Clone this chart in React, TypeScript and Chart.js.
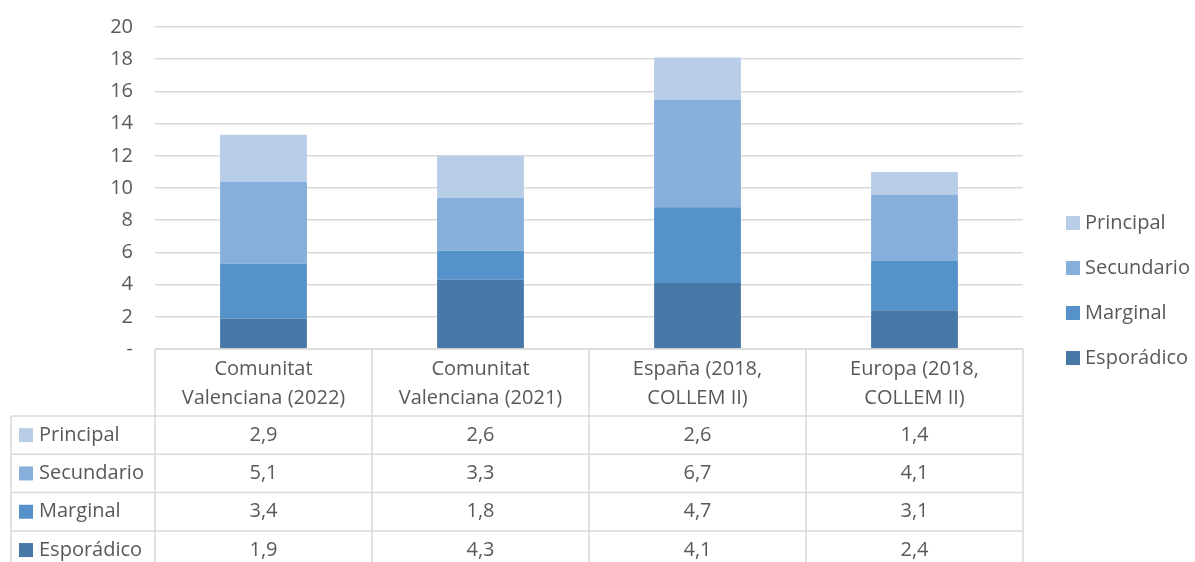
import React, { useEffect, useRef } from "react";
import { Chart, registerables } from "chart.js";

Chart.register(...registerables);

const categories: string[][] = [
  ["Comunitat", "Valenciana (2022)"],
  ["Comunitat", "Valenciana (2021)"],
  ["España (2018,", "COLLEM II)"],
  ["Europa (2018,", "COLLEM II)"],
];

const seriesNames = ["Esporádico", "Marginal", "Secundario", "Principal"];
const esporadico = [1.9, 4.3, 4.1, 2.4];
const marginal = [3.4, 1.8, 4.7, 3.1];
const secundario = [5.1, 3.3, 6.7, 4.1];
const principal = [2.9, 2.6, 2.6, 1.4];
const seriesColors = ["#4778A8", "#5592C9", "#86AFDC", "#B8CDE8"];

const yTicks = [0, 2, 4, 6, 8, 10, 12, 14, 16, 18, 20];

const FONT = '"Open Sans", "DejaVu Sans", sans-serif';
const TEXT = "#595959";
const LINE = "#D9D9D9";

const fmt = (v: number) => v.toFixed(1).replace(".", ",");

const tablePlugin = {
  id: "dataTableAndLegend",
  afterDraw(chart: any) {
    const ctx = chart.ctx as CanvasRenderingContext2D;
    const area = chart.chartArea;
    const xs = chart.scales.x;
    const n = categories.length;
    const colW = (area.right - area.left) / n;
    const tableLeft = 11;
    const headerTop = area.bottom;
    const headerBottom = 416;
    const rowH = 38.3;
    const bottom = chart.height + 10;
    const datasets = chart.data.datasets;
    const rowOrder = [3, 2, 1, 0];

    ctx.save();
    ctx.strokeStyle = LINE;
    ctx.lineWidth = 1.5;
    ctx.beginPath();
    // header top line
    ctx.moveTo(area.left, headerTop);
    ctx.lineTo(area.right, headerTop);
    // row lines
    for (let r = 0; r < rowOrder.length; r++) {
      const y = headerBottom + r * rowH;
      ctx.moveTo(tableLeft, y);
      ctx.lineTo(area.right, y);
    }
    // verticals
    for (let i = 0; i <= n; i++) {
      const x = area.left + i * colW;
      ctx.moveTo(x, headerTop);
      ctx.lineTo(x, bottom);
    }
    ctx.moveTo(tableLeft, headerBottom);
    ctx.lineTo(tableLeft, bottom);
    ctx.stroke();

    ctx.fillStyle = TEXT;
    ctx.font = `20px ${FONT}`;
    ctx.textAlign = "center";
    ctx.textBaseline = "middle";
    // header labels
    categories.forEach((lines, i) => {
      const cx = xs.getPixelForValue(i);
      lines.forEach((ln, k) => {
        ctx.fillText(ln, cx, 369 + k * 29);
      });
    });
    // rows
    rowOrder.forEach((di, r) => {
      const cy = headerBottom + r * rowH + rowH / 2;
      const ds = datasets[di];
      ctx.textAlign = "center";
      ctx.fillStyle = TEXT;
      (ds.data as number[]).forEach((v, i) => {
        ctx.fillText(fmt(v), xs.getPixelForValue(i), cy);
      });
      ctx.fillStyle = ds.backgroundColor as string;
      ctx.fillRect(19, cy - 7, 14, 14);
      ctx.fillStyle = TEXT;
      ctx.textAlign = "left";
      ctx.fillText(ds.label, 39, cy);
    });
    // legend
    rowOrder.forEach((di, r) => {
      const cy = 223 + r * 45;
      const ds = datasets[di];
      ctx.fillStyle = ds.backgroundColor as string;
      ctx.fillRect(1066, cy - 7, 14, 14);
      ctx.fillStyle = TEXT;
      ctx.textAlign = "left";
      ctx.fillText(ds.label, 1085, cy);
    });
    ctx.restore();
  },
};

export default function App() {
  const ref = useRef<HTMLCanvasElement | null>(null);
  useEffect(() => {
    if (!ref.current) return;
    const values = [esporadico, marginal, secundario, principal];
    const chart = new Chart(ref.current, {
      type: "bar",
      data: {
        labels: categories.map((c) => c.join(" ")),
        datasets: seriesNames.map((name, i) => ({
          label: name,
          data: values[i],
          backgroundColor: seriesColors[i],
          borderWidth: 0,
          categoryPercentage: 1,
          barPercentage: 0.4,
        })),
      },
      options: {
        responsive: false,
        animation: false,
        devicePixelRatio: 1,
        layout: { padding: { left: 0, right: 172, top: 27, bottom: 213 } },
        plugins: { legend: { display: false }, tooltip: { enabled: false } },
        scales: {
          x: { stacked: true, display: false },
          y: {
            stacked: true,
            min: 0,
            max: 20,
            afterBuildTicks: (scale: any) => {
              scale.ticks = yTicks.map((v) => ({ value: v }));
            },
            afterFit: (scale: any) => {
              scale.width = 155;
              scale.paddingTop = 0;
              scale.paddingBottom = 0;
            },
            border: { display: false },
            grid: { color: LINE, lineWidth: 1.5, drawTicks: false },
            ticks: {
              color: TEXT,
              font: { family: FONT, size: 20 },
              padding: 22,
              callback: (v: any) => (Number(v) === 0 ? "-" : String(v)),
            },
          },
        },
      },
      plugins: [tablePlugin],
    });
    return () => chart.destroy();
  }, []);
  return (
    <div style={{ position: "absolute", left: 0, top: 0, width: 1195, height: 562, background: "#fff" }}>
      <canvas ref={ref} width={1195} height={562} style={{ display: "block" }} />
    </div>
  );
}
